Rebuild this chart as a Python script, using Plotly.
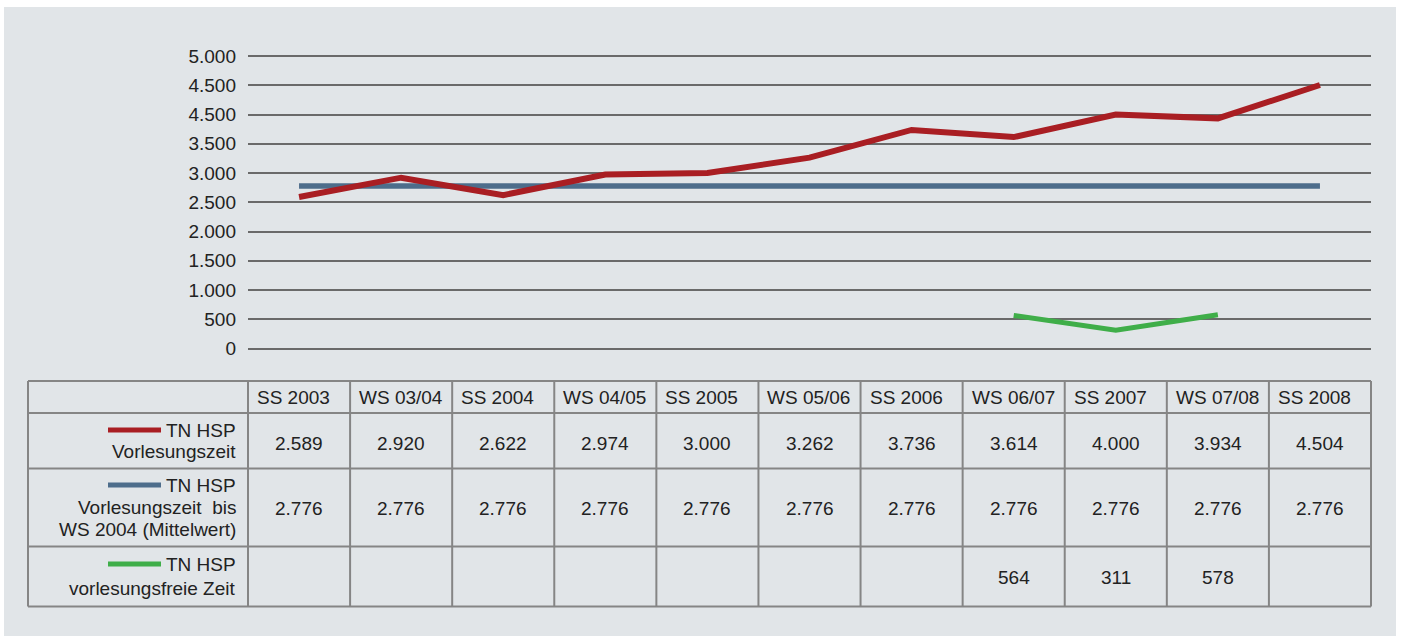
import plotly.graph_objects as go

# ---------------- data ----------------
categories = ["SS 2003", "WS 03/04", "SS 2004", "WS 04/05", "SS 2005", "WS 05/06",
              "SS 2006", "WS 06/07", "SS 2007", "WS 07/08", "SS 2008"]
tn_vorlesungszeit = [2589, 2920, 2622, 2974, 3000, 3262, 3736, 3614, 4000, 3934, 4504]
tn_mittelwert = [2776, 2776, 2776, 2776, 2776, 2776, 2776, 2776, 2776, 2776, 2776]
tn_vorlesungsfrei = [None, None, None, None, None, None, None, 564, 311, 578, None]

y_tickvals = [0, 500, 1000, 1500, 2000, 2500, 3000, 3500, 4000, 4500, 5000]
y_ticktext = ["0", "500", "1.000", "1.500", "2.000", "2.500", "3.000", "3.500",
              "4.500", "4.500", "5.000"]

series_names = [["TN HSP", "Vorlesungszeit"],
                ["TN HSP", "Vorlesungszeit  bis", "WS 2004 (Mittelwert)"],
                ["TN HSP", "vorlesungsfreie Zeit"]]

# ---------------- styles ----------------
W, H = 1404, 636
RED = "#a91e23"
BLUE = "#4d6d8b"
GREEN = "#3fae49"
PANEL = "#e1e5e8"
GRID = "#6a6a6a"
BORDER = "#858585"
TXT = "#222222"
FONT = "Liberation Sans, Arial, Helvetica, sans-serif"
FS = 19


def px(x):
    return x / W


def py(y):
    return 1 - y / H


def fmt(v):
    return f"{v:,}".replace(",", ".")


# plot area in pixels
PL, PR = 248, 1371
Y0_PX, UNIT = 348.5, 29.25 / 500  # pixel of value 0, px per unit
YMIN, YMAX = -250, 5250
ybot = Y0_PX - YMIN * UNIT
ytop = Y0_PX - YMAX * UNIT

fig = go.Figure()
fig.add_trace(go.Scatter(x=categories, y=tn_mittelwert, mode="lines",
                         line=dict(color=BLUE, width=5.5), showlegend=False))
fig.add_trace(go.Scatter(x=categories, y=tn_vorlesungszeit, mode="lines",
                         line=dict(color=RED, width=6), showlegend=False))
fig.add_trace(go.Scatter(x=categories, y=tn_vorlesungsfrei, mode="lines",
                         line=dict(color=GREEN, width=5), showlegend=False,
                         connectgaps=False))

shapes = []
# grey panel
shapes.append(dict(type="rect", xref="paper", yref="paper", x0=px(4), x1=px(1396),
                   y0=py(636), y1=py(7), fillcolor=PANEL, line=dict(width=0), layer="below"))

# table geometry (pixels)
TL, TR = 28, 1371
row_lines = [381, 413, 468.5, 546.5, 606.5]
colw = (PR - PL) / len(categories)
col_lines = [TL] + [PL + k * colw for k in range(len(categories) + 1)]
for yy in row_lines:
    shapes.append(dict(type="line", xref="paper", yref="paper", x0=px(TL), x1=px(TR),
                       y0=py(yy), y1=py(yy), line=dict(color=BORDER, width=2)))
for xx in col_lines:
    shapes.append(dict(type="line", xref="paper", yref="paper", x0=px(xx), x1=px(xx),
                       y0=py(row_lines[0]), y1=py(row_lines[-1]),
                       line=dict(color=BORDER, width=2)))

annotations = []
# header row
for c in categories:
    annotations.append(dict(x=c, xref="x", y=py(397), yref="paper", text=c,
                            showarrow=False, xanchor="left", yanchor="middle",
                            xshift=-colw / 2 + 7,
                            font=dict(family=FONT, size=FS, color=TXT)))

row_values = [tn_vorlesungszeit, tn_mittelwert, tn_vorlesungsfrei]
row_value_y = [443, 508, 577]
for vals, yy in zip(row_values, row_value_y):
    for c, v in zip(categories, vals):
        if v is None:
            continue
        annotations.append(dict(x=c, xref="x", y=py(yy), yref="paper", text=fmt(v),
                                showarrow=False, xanchor="center", yanchor="middle",
                                font=dict(family=FONT, size=FS, color=TXT)))

# row labels with legend line samples
label_line_y = [[430, 451], [485, 507, 529], [564, 588]]
colors = [RED, BLUE, GREEN]
for names, ys, col in zip(series_names, label_line_y, colors):
    for t, yy in zip(names, ys):
        annotations.append(dict(x=px(237.5), xref="paper", y=py(yy), yref="paper", text=t,
                                showarrow=False, xanchor="right", yanchor="middle",
                                font=dict(family=FONT, size=FS, color=TXT)))
    shapes.append(dict(type="line", xref="paper", yref="paper", x0=px(108), x1=px(161),
                       y0=py(ys[0]), y1=py(ys[0]), line=dict(color=col, width=5)))

fig.update_layout(
    width=W, height=H,
    margin=dict(l=0, r=0, t=0, b=0),
    paper_bgcolor="white",
    plot_bgcolor="rgba(0,0,0,0)",
    showlegend=False,
    shapes=shapes,
    annotations=annotations,
    xaxis=dict(domain=[px(PL), px(PR)], type="category", range=[-0.5, len(categories) - 0.5],
               showgrid=False, showticklabels=False, zeroline=False, showline=False,
               fixedrange=True),
    yaxis=dict(domain=[py(ybot), py(ytop)], range=[YMIN, YMAX],
               tickvals=y_tickvals, ticktext=y_ticktext,
               showgrid=True, gridcolor=GRID, gridwidth=1.6, zeroline=False,
               showline=False, ticks="", ticklabelstandoff=11,
               tickfont=dict(family=FONT, size=FS, color=TXT), fixedrange=True),
)

fig.write_html("out.html", config={"displayModeBar": False},
               post_script="document.body.style.margin='0';document.body.style.overflow='hidden';")
